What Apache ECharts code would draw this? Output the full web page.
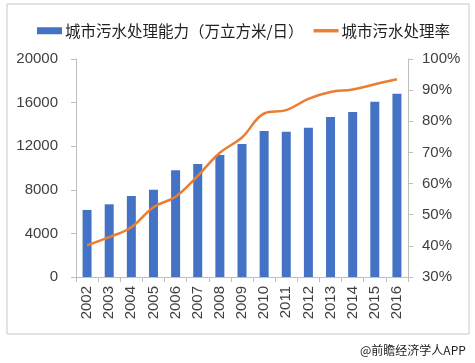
<!DOCTYPE html>
<html>
<head>
<meta charset="utf-8">
<script src="https://cdn.jsdelivr.net/npm/echarts@6/dist/echarts.min.js"></script>
<style>html,body{margin:0;padding:0;background:#fff;}#c{width:475px;height:363px;}</style>
</head>
<body>
<div id="c"></div>
<script>
var years = ['2002','2003','2004','2005','2006','2007','2008','2009','2010','2011','2012','2013','2014','2015','2016'];
var capacity = [6150, 6670, 7430, 8010, 9790, 10370, 11190, 12200, 13390, 13330, 13700, 14680, 15140, 16080, 16820];
var rate = [40.2, 42.8, 46.0, 52.4, 55.8, 62.5, 69.9, 74.8, 82.5, 83.6, 87.2, 89.4, 90.2, 91.9, 93.5];
var leftTicks = {min: 0, max: 20000, interval: 4000};
var rightTicks = {min: 30, max: 100, interval: 10};
var capName = '城市污水处理能力（万立方米/日）';
var rateName = '城市污水处理率';

var chart = echarts.init(document.getElementById('c'));
var axisColor = '#bfbfbf';
var txt = '#404040';
chart.setOption({
  animation: false,
  backgroundColor: '#fff',
  textStyle: {fontFamily: 'Liberation Sans, Arial, sans-serif'},
  graphic: [
    {type: 'rect', shape: {x: 7, y: 4, width: 462, height: 330}, style: {fill: 'none', stroke: '#c8c8c8', lineWidth: 1}, silent: true},
    {type: 'text', left: 360, top: 344, style: {text: '@前瞻经济学人APP', fill: '#222', font: '12px "Noto Sans CJK SC", sans-serif'}}
  ],
  legend: {
    left: 32, top: 18,
    itemGap: 10,
    itemWidth: 25, itemHeight: 7,
    textStyle: {fontFamily: '"Noto Sans CJK SC", sans-serif', fontSize: 15.5, color: '#222', padding: [0, 0, 0, -2]},
    data: [
      {name: capName, icon: 'rect'},
      {name: rateName, icon: 'path://M0,0 L22,0 L22,3 L0,3 Z', itemStyle: {color: '#ED7D31'}}
    ]
  },
  grid: {left: 76, right: 67, top: 59, bottom: 86, containLabel: false},
  xAxis: {
    type: 'category', data: years, boundaryGap: true,
    axisLine: {lineStyle: {color: axisColor}},
    axisTick: {show: true, length: 5, lineStyle: {color: axisColor}},
    axisLabel: {rotate: 90, fontSize: 15, color: txt, margin: 9, interval: 0}
  },
  yAxis: [
    {type: 'value', min: leftTicks.min, max: leftTicks.max, interval: leftTicks.interval,
     axisLine: {show: true, lineStyle: {color: axisColor}},
     axisTick: {show: true, length: 5, lineStyle: {color: axisColor}},
     splitLine: {show: false},
     axisLabel: {fontSize: 15, color: txt, margin: 18, formatter: function (v) { return String(v); }}},
    {type: 'value', min: rightTicks.min, max: rightTicks.max, interval: rightTicks.interval,
     position: 'right',
     axisLine: {show: true, lineStyle: {color: axisColor}},
     axisTick: {show: true, length: 5, lineStyle: {color: axisColor}},
     splitLine: {show: false},
     axisLabel: {fontSize: 15, color: txt, margin: 14, formatter: '{value}%'}}
  ],
  series: [
    {name: capName, type: 'bar', data: capacity, barWidth: 9, itemStyle: {color: '#4472C4'}, yAxisIndex: 0},
    {name: rateName, type: 'line', data: rate, yAxisIndex: 1, smooth: 0.4, symbol: 'none',
     lineStyle: {color: '#ED7D31', width: 2.5}, itemStyle: {color: '#ED7D31'}}
  ]
});
</script>
</body>
</html>
